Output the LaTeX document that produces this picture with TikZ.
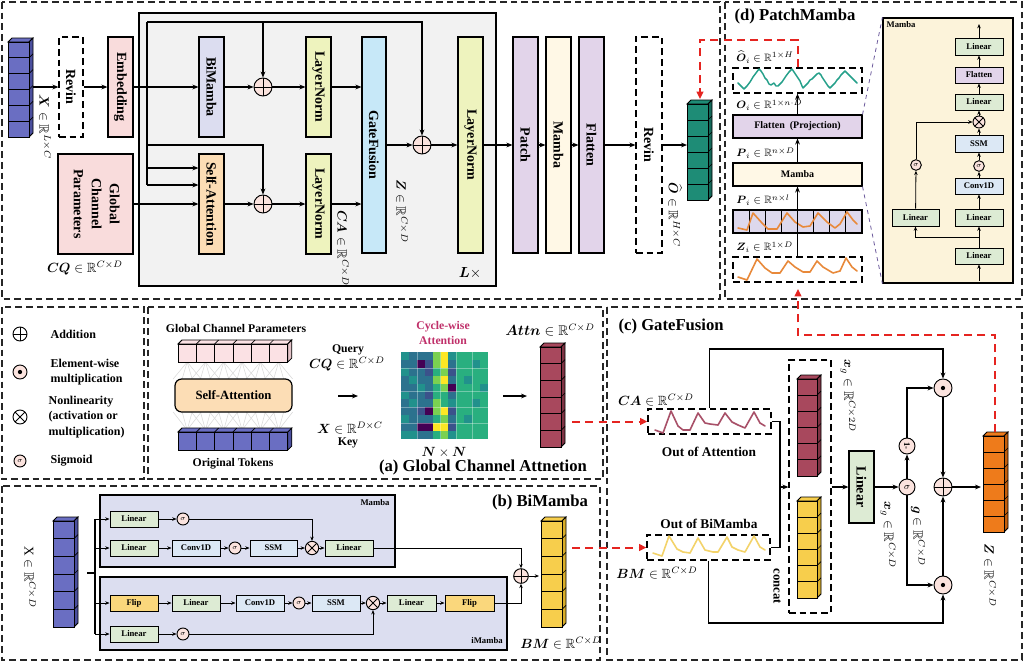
\documentclass[tikz,border=0pt]{standalone}
\usepackage{fontspec}
\setmainfont{Liberation Serif}
\usepackage{amsmath,amssymb}
\usepackage{graphicx}
\usetikzlibrary{arrows.meta,calc}

\definecolor{cpinkbox}{HTML}{F9DCDC}
\definecolor{clav}{HTML}{DCDDF0}
\definecolor{cln}{HTML}{EEF3BE}
\definecolor{csa}{HTML}{FCDDB5}
\definecolor{cgf}{HTML}{C7E8F8}
\definecolor{cpur}{HTML}{E2D4EA}
\definecolor{ccream}{HTML}{FFF8E6}
\definecolor{cgray}{HTML}{F2F2F2}
\definecolor{ccirc}{HTML}{FBE3DE}
\definecolor{cgreen}{HTML}{DDEBD4}
\definecolor{cltblue}{HTML}{DCE8F5}
\definecolor{cflip}{HTML}{FAD77C}
\definecolor{cpanel}{HTML}{DCDEF0}
\definecolor{cmzpanel}{HTML}{FCF3DA}
\definecolor{cpatch}{HTML}{DDD8EC}
\definecolor{cred}{HTML}{E52420}
\definecolor{cblueF}{HTML}{6A6EC2}
\definecolor{cblueD}{HTML}{4B4F9E}
\definecolor{ctealF}{HTML}{1E8C76}
\definecolor{ctealD}{HTML}{14695A}
\definecolor{cmarF}{HTML}{A8485D}
\definecolor{cmarD}{HTML}{7E3243}
\definecolor{cyelF}{HTML}{F7CE4C}
\definecolor{cyelD}{HTML}{D9AE2A}
\definecolor{coraF}{HTML}{EE7B1B}
\definecolor{coraD}{HTML}{C45F0C}
\definecolor{cpinkT}{HTML}{FBE1E4}
\definecolor{cpinkTD}{HTML}{E3C3C8}
\definecolor{ccrim}{HTML}{C0306A}
\definecolor{cwaveCA}{HTML}{A85068}
\definecolor{cwaveBM}{HTML}{F3D36A}
\definecolor{cwaveO}{HTML}{E8893A}
\definecolor{cwaveT}{HTML}{25A08A}
\definecolor{cdashp}{HTML}{6C5A9C}
\definecolor{hm0}{HTML}{440154}
\definecolor{hm1}{HTML}{3B528B}
\definecolor{hm2}{HTML}{2C728E}
\definecolor{hm3}{HTML}{21918C}
\definecolor{hm4}{HTML}{29AF7F}
\definecolor{hm5}{HTML}{7AD151}
\definecolor{hm6}{HTML}{FDE725}

\newcommand\RR{\mathbb{R}}
\newcommand\rtx[1]{\rotatebox{-90}{#1}}
\newcommand\bx[7]{%
  \pgfmathsetmacro\myW{(#5-#3)*0.75}%
  \pgfmathsetmacro\myH{(#6-#4)*0.75}%
  \node[#2,minimum width=\myW pt,minimum height=\myH pt] (#1) at ({(#3+#5)/2},{(#4+#6)/2}) {#7};}
% vertical cube: x y (front top-left) w h n front side
\newcommand\vcube[7]{%
  \filldraw[fill=#6,draw=black,line width=0.6pt] (#1,#2) -- ({#1+4},{#2-4}) -- ({#1+#3+4},{#2-4}) -- ({#1+#3},#2) -- cycle;
  \filldraw[fill=#7,draw=black,line width=0.6pt] ({#1+#3},#2) -- ({#1+#3+4},{#2-4}) -- ({#1+#3+4},{#2+#4-4}) -- ({#1+#3},{#2+#4}) -- cycle;
  \foreach \k in {1,...,#5}{\filldraw[fill=#6,draw=black,line width=0.6pt] (#1,{#2+(\k-1)*#4/#5}) rectangle ({#1+#3},{#2+\k*#4/#5});}
  \foreach \k in {1,...,#5}{\draw[line width=0.5pt] ({#1+#3},{#2+\k*#4/#5}) -- ++(4,-4);}
}
% horizontal row: x y cw h n front side
\newcommand\hrow[7]{%
  \pgfmathsetmacro\hrW{#3*#5}%
  \filldraw[fill=#6,draw=black,line width=0.6pt] (#1,#2) -- ({#1+4},{#2-4}) -- ({#1+\hrW+4},{#2-4}) -- ({#1+\hrW},#2) -- cycle;
  \filldraw[fill=#7,draw=black,line width=0.6pt] ({#1+\hrW},#2) -- ({#1+\hrW+4},{#2-4}) -- ({#1+\hrW+4},{#2+#4-4}) -- ({#1+\hrW},{#2+#4}) -- cycle;
  \foreach \k in {1,...,#5}{\filldraw[fill=#6,draw=black,line width=0.6pt] ({#1+(\k-1)*#3},#2) rectangle ({#1+\k*#3},{#2+#4});
    \draw[line width=0.5pt] ({#1+(\k-1)*#3},#2) -- ++(4,-4);}
}

\begin{document}
\begin{tikzpicture}[x=0.75pt,y=-0.75pt,
  frame/.style={draw=black!85, dash pattern=on 5pt off 3pt, line width=0.8pt},
  dbox/.style={draw, dash pattern=on 5pt off 3pt, line width=0.9pt, inner sep=0pt, fill=white, font=\fontsize{10.5}{13.5}\selectfont\bfseries},
  tbox/.style={draw, line width=0.9pt, inner sep=0pt, font=\fontsize{10.5}{13.5}\selectfont\bfseries},
  pbox/.style={draw, line width=0.8pt, inner sep=0pt, font=\fontsize{7.5}{9}\selectfont\bfseries},
  mbox/.style={draw, line width=0.7pt, inner sep=0pt, font=\fontsize{6.5}{7}\selectfont\bfseries},
  panel/.style={draw, line width=0.8pt, fill=cpanel, inner sep=0pt},
  circ/.style={circle, draw, line width=0.7pt, fill=ccirc, inner sep=0pt},
  sigc/.style={circ, font=\fontsize{5.5}{6}\selectfont},
  addc/.style={circ, path picture={\draw[black,line width=0.7pt] (path picture bounding box.north) -- (path picture bounding box.south) (path picture bounding box.west) -- (path picture bounding box.east);}},
  mulc/.style={circ, path picture={\draw[black,line width=0.7pt] (path picture bounding box.north west) -- (path picture bounding box.south east) (path picture bounding box.north east) -- (path picture bounding box.south west);}},
  dotc/.style={circ, path picture={\fill[black] (path picture bounding box.center) circle[radius=1.6pt];}},
  ttl/.style={font=\fontsize{12.5}{14}\selectfont\bfseries, inner sep=1pt},
  lt/.style={font=\fontsize{9}{11.8}\selectfont\bfseries, inner sep=1pt},
  ot/.style={font=\fontsize{10}{12}\selectfont\bfseries, inner sep=1pt},
  gt/.style={font=\fontsize{8.8}{11}\selectfont\bfseries, inner sep=1pt},
  ml/.style={font=\fontsize{10}{11}\selectfont, inner sep=1pt},
  plab/.style={font=\fontsize{8}{9}\selectfont, inner sep=0pt, anchor=west},
  tinylab/.style={font=\fontsize{6.5}{7}\selectfont\bfseries, inner sep=1pt},
  ln/.style={line width=0.8pt},
  arr/.style={line width=0.8pt, -{Stealth[length=4.5pt,width=3.6pt]}},
  sarr/.style={line width=0.6pt, -{Stealth[length=3.2pt,width=2.6pt]}},
  reddash/.style={draw=cred, line width=1.5pt, dash pattern=on 6pt off 4pt, -{Triangle[length=5.5pt,width=5pt]}},
  pdash/.style={draw=cdashp, dashed, line width=0.6pt},
  wv/.style={line width=1.2pt, line join=round, line cap=round}]
\useasboundingbox (0,0) rectangle (1024,662);
\fill[white] (0,0) rectangle (1024,662);

% ---------- frames
\draw[frame] (2,2) rectangle (720,299);
\draw[frame] (725,2) rectangle (1022,299);
\draw[frame] (2,307) rectangle (144,479);
\draw[frame] (148,307) rectangle (603,479);
\draw[frame] (2,486) rectangle (600,660);
\draw[frame] (607,307) rectangle (1022,660);

% ---------- top section
\bx{lblock}{draw,fill=cgray,line width=1pt}{139}{13}{496}{286}{}
\node[font=\fontsize{11}{12}\selectfont] (lx) at (470,273) {$\boldsymbol{L}\times$};
\vcube{8}{42}{21}{95}{6}{cblueF}{cblueD}
\coordinate (xc) at (33,87);
\node[ml] (xl) at (45,127) {\rtx{$\boldsymbol{X}\in\RR^{L\times C}$}};
\bx{rev1}{dbox}{59}{37}{83}{137}{\rtx{Revin}}
\bx{emb}{tbox,fill=cpinkbox}{108}{37}{133}{137}{\rtx{Embedding}}
\bx{gcp}{tbox,fill=cpinkbox}{58}{154}{133}{254}{\rtx{\begin{tabular}{@{}c@{}}Global\\Channel\\Parameters\end{tabular}}}
\node[ml] (cql) at (85,268) {$\boldsymbol{CQ}\in\RR^{C\times D}$};
\bx{bim}{tbox,fill=clav}{199}{37}{224}{137}{\rtx{BiMamba}}
\node[addc,minimum size=13.5pt] (p1) at (263,87) {};
\bx{ln1}{tbox,fill=cln}{306}{37}{331}{137}{\rtx{LayerNorm}}
\bx{sa}{tbox,fill=csa}{199}{154}{224}{254}{\rtx{Self-Attention}}
\node[addc,minimum size=13.5pt] (p2) at (263,204) {};
\bx{ln2}{tbox,fill=cln}{306}{154}{331}{254}{\rtx{LayerNorm}}
\node[ml] (cal) at (343,248) {\rtx{$\boldsymbol{CA}\in\RR^{C\times D}$}};
\bx{gf}{tbox,fill=cgf}{362}{37}{386}{253}{\rtx{GateFusion}}
\node[ml] (zl) at (402,211) {\rtx{$\boldsymbol{Z}\in\RR^{C\times D}$}};
\node[addc,minimum size=13.5pt] (p3) at (422,145) {};
\bx{ln3}{tbox,fill=cln}{458}{37}{483}{253}{\rtx{LayerNorm}}
\bx{patch}{tbox,fill=cpur}{513}{37}{538}{253}{\rtx{Patch}}
\bx{mam}{tbox,fill=ccream}{546}{37}{571}{253}{\rtx{Mamba}}
\bx{flt}{tbox,fill=cpur}{579}{37}{604}{253}{\rtx{Flatten}}
\bx{rev2}{dbox}{636}{37}{662}{253}{\rtx{Revin}}
\node[ml] (ol) at (675,215) {\rtx{$\widehat{\boldsymbol{O}}\in\RR^{H\times C}$}};
\vcube{687}{104}{21}{96}{6}{ctealF}{ctealD}
\coordinate (ocw) at (687,145);
\coordinate (ocn) at (700,99);

\draw[arr] (xc) -- (rev1.west |- xc);
\draw[arr] (rev1) -- (emb);
\draw[arr] (emb) -- (bim);
\coordinate (bt) at (147,22);
\coordinate (bb) at (147,185);
\coordinate (bm1) at (147,145);
\coordinate (bk) at (147,168);
\draw[ln] (bt) -- (bb);
\draw[arr] (bt) -| (p3.north);
\draw[arr] (p1.north |- bt) -- (p1.north);
\draw[arr] (bm1) -| (p2.north);
\draw[arr] (bk) -- (sa.west |- bk);
\draw[arr] (bb) -- (sa.west |- bb);
\draw[arr] (gcp) -- (sa);
\draw[arr] (bim) -- (p1);
\draw[arr] (p1) -- (ln1);
\draw[arr] (sa) -- (p2);
\draw[arr] (p2) -- (ln2);
\draw[arr] (ln1.east) -- (gf.west |- ln1.east);
\draw[arr] (ln2.east) -- (gf.west |- ln2.east);
\draw[arr] (gf.east |- p3) -- (p3);
\draw[arr] (p3) -- (ln3);
\draw[arr] (ln3) -- (patch);
\draw[arr] (patch) -- (mam);
\draw[arr] (mam) -- (flt);
\draw[arr] (flt) -- (rev2);
\draw[arr] (rev2) -- (ocw);

% ---------- (d) PatchMamba
\node[ttl,anchor=west] (dttl) at (733,16) {(d) PatchMamba};
\node[plab] (l1) at (736,57) {$\widehat{\boldsymbol{O}}_i\in\RR^{1\times H}$};
\node[plab] (l2) at (736,105) {$\boldsymbol{O}_i\in\RR^{1\times n\cdot D}$};
\node[plab] (l3) at (736,153) {$\boldsymbol{P}_i\in\RR^{n\times D}$};
\node[plab] (l4) at (736,200) {$\boldsymbol{P}_i\in\RR^{n\times l}$};
\node[plab] (l5) at (736,247) {$\boldsymbol{Z}_i\in\RR^{1\times D}$};
\bx{pmo}{dbox}{733}{68}{862}{93}{}
\draw[wv,cwaveT,line width=1.1pt] plot coordinates {(738,83) (741,86) (744,89) (747,86) (750,82) (753,77) (756,73) (759,69) (761,71) (763,74) (765,78) (767,80) (769,84) (771,85) (774,83) (776,86) (778,86) (780,84) (782,82) (784,79) (786,76) (789,72) (792,69) (794,72) (796,75) (798,78) (800,81) (802,86) (803,88) (806,85) (808,83) (810,80) (812,79) (815,76) (817,74) (819,73) (821,75) (822,77) (824,80) (826,83) (828,86) (830,88) (833,85) (835,83) (837,80) (839,78) (841,75) (843,73) (845,71) (847,73) (849,75) (851,77) (853,79) (855,81) (857,83)};
\bx{pmf}{pbox,fill=cpur}{733}{115}{862}{138}{Flatten\ \ (Projection)}
\bx{pmm}{pbox,fill=ccream}{733}{163}{862}{186}{Mamba}
\bx{pmp}{pbox,fill=cpatch}{733}{210}{862}{233}{}
\foreach \k in {1,...,7}{\draw[line width=0.7pt] ({733+\k*16.125},210) -- ({733+\k*16.125},233);}
\draw[wv,cwaveO] plot coordinates {(738,228) (747,230) (753,213) (762,223) (768,229) (777,229) (787,213) (795,222) (803,227) (810,226) (818,213) (827,222) (835,228) (840,224) (847,212) (853,220) (857,224)};
\bx{pmz}{dbox}{733}{257}{862}{282}{}
\draw[wv,cwaveO] plot coordinates {(738,277) (747,280) (757,259) (765,268) (772,273) (780,273) (788,261) (795,267) (803,272) (810,272) (817,261) (823,267) (833,273) (840,271) (846,258) (852,267) (857,271)};
\draw[arr] (pmz) -- (pmm);
\draw[arr] (pmm) -- (pmf);
\draw[arr] (pmf) -- (pmo);

\bx{mzp}{draw,fill=cmzpanel,line width=0.9pt}{883}{18}{1013}{283}{}
\node[tinylab,anchor=north west] (mzt) at (885,20) {Mamba};
\draw[pdash] (pmf.north east) -- (mzp.north west);
\draw[pdash] (pmm.south east) -- (mzp.south west);
\bx{mz4}{mbox,fill=cgreen}{955}{38}{1003}{55}{Linear}
\bx{mzf}{mbox,fill=cpur}{955}{67}{1003}{83}{Flatten}
\bx{mz3}{mbox,fill=cgreen}{955}{94}{1003}{110}{Linear}
\node[mulc,minimum size=9pt] (mzx) at (979,122) {};
\bx{mzs}{mbox,fill=cltblue}{955}{135}{1003}{152}{SSM}
\node[sigc,minimum size=8pt] (mzg) at (979,166) {$\sigma$};
\bx{mzc}{mbox,fill=cltblue}{955}{178}{1003}{194}{Conv1D}
\bx{mz2}{mbox,fill=cgreen}{955}{209}{1003}{226}{Linear}
\bx{mz1}{mbox,fill=cgreen}{955}{248}{1003}{264}{Linear}
\bx{mzl}{mbox,fill=cgreen}{892}{209}{939}{226}{Linear}
\node[sigc,minimum size=8pt] (mzlg) at (916,165) {$\sigma$};
\coordinate (mzin) at (979,281);
\coordinate (mzout) at (979,24);
\coordinate (mzbr) at (979,237);
\draw[sarr] (mzin) -- (mz1);
\draw[sarr] (mz1) -- (mz2);
\draw[sarr] (mzbr) -| (mzl.south);
\draw[sarr] (mzl) -- (mzlg);
\draw[sarr] (mzlg.north) |- (mzx.west);
\draw[sarr] (mz2) -- (mzc);
\draw[sarr] (mzc) -- (mzg);
\draw[sarr] (mzg) -- (mzs);
\draw[sarr] (mzs) -- (mzx);
\draw[sarr] (mzx) -- (mz3);
\draw[sarr] (mz3) -- (mzf);
\draw[sarr] (mzf) -- (mz4);
\draw[sarr] (mz4) -- (mzout);

% ---------- legend
\node[addc,fill=white,minimum size=10.5pt] (la) at (20,334) {};
\node[lt,anchor=west] (lat) at (49,334) {Addition};
\node[dotc,minimum size=10.5pt] (ld) at (20,372) {};
\node[lt,anchor=west,align=left] (ldt) at (49,372) {Element-wise\\multiplication};
\node[mulc,fill=white,minimum size=10.5pt] (lm) at (20,417) {};
\node[lt,anchor=west,align=left] (lmt) at (47,417) {Nonlinearity\\(activation or\\multiplication)};
\node[sigc,minimum size=9pt] (ls) at (20,461) {$\sigma$};
\node[lt,anchor=west] (lst) at (49,461) {Sigmoid};

% ---------- (a) global channel attention
\node[gt] (gcpt) at (236,328) {Global Channel Parameters};
\foreach \i in {0,...,5}{
  \foreach \o in {-14,-5,5,14}{
    \draw[gray!30,line width=0.4pt] ({178+18.3*(\i+0.5)},362) -- ({178+18.3*(\i+0.5)+\o},379);
    \draw[gray!30,line width=0.4pt] ({178+18.3*(\i+0.5)},430) -- ({178+18.3*(\i+0.5)+\o},412);
  }
}
\hrow{178}{344}{18.3}{18}{6}{cpinkT}{cpinkTD}
\bx{sab}{draw,fill=csa,line width=0.9pt,rounded corners=5pt,font=\fontsize{9.5}{11}\selectfont\bfseries}{175}{379}{292}{412}{Self-Attention}
\hrow{178}{432}{18.3}{18}{6}{cblueF}{cblueD}
\node[gt] (ott) at (233,464) {Original Tokens};
\node[gt] (qt) at (348,350) {Query};
\node[ml] (cqt) at (347,364) {$\boldsymbol{CQ}\in\RR^{C\times D}$};
\coordinate (qa1) at (338,396);
\coordinate (qa2) at (358,396);
\draw[arr] (qa1) -- (qa2);
\node[ml] (xkt) at (350,428) {$\boldsymbol{X}\in\RR^{D\times C}$};
\node[gt] (kt) at (348,443) {Key};
\node[gt,text=ccrim,align=center] (cwt) at (443,333) {Cycle-wise\\Attention};
\foreach \rl [count=\r from 0] in {{3,2,2,2,5,6,3,4,4,4,4},{2,2,0,1,5,6,2,4,4,3,4},{3,2,2,1,4,5,1,4,4,4,4},{2,3,2,2,5,6,2,4,3,4,4},{2,2,3,2,4,5,0,4,4,4,3},{3,2,2,1,4,4,2,4,4,4,4},{2,3,2,2,5,4,3,4,4,3,4},{2,2,1,0,5,6,1,4,4,4,4},{3,2,2,2,4,5,2,4,3,4,4},{2,2,0,0,6,6,1,4,4,4,4},{3,3,2,2,4,5,3,4,4,4,4}}{
  \foreach \v [count=\c from 0] in \rl {
    \fill[hm\v] ({401+\c*7.9},{352+\r*7.9}) rectangle ++(7.9,7.9);
  }
}
\foreach \g in {2,5,7,9}{
  \draw[white,opacity=0.35,line width=0.3pt] ({401+\g*7.9},352) -- ++(0,86.9);
  \draw[white,opacity=0.35,line width=0.3pt] (401,{352+\g*7.9}) -- ++(86.9,0);
}
\node[ml] (nnt) at (444,452) {$\boldsymbol{N}\times\boldsymbol{N}$};
\coordinate (ha1) at (503,396);
\coordinate (ha2) at (527,396);
\draw[arr] (ha1) -- (ha2);
\node[ml,font=\fontsize{10.5}{12}\selectfont] (attt) at (550,330) {$\boldsymbol{Attn}\in\RR^{C\times D}$};
\vcube{540}{347}{21}{100}{6}{cmarF}{cmarD}
\coordinate (atte) at (572,421.5);
\node[ttl] (attl) at (483,467) {(a) Global Channel Attnetion};

% ---------- (b) BiMamba
\node[ttl] (bttl) at (540,502) {(b) BiMamba};
\node[ml] (bxl) at (30,577) {\rtx{$\mathrm{X}\in\RR^{C\times D}$}};
\vcube{53}{521}{21}{106}{6}{cblueF}{cblueD}
\bx{mpan}{panel}{100}{495}{395}{567}{}
\node[tinylab] (mpt) at (375,503) {Mamba};
\bx{ipan}{panel}{100}{577}{507}{650}{}
\node[tinylab] (ipt) at (487,641) {iMamba};
\bx{ml1}{mbox,fill=cgreen}{110}{511}{158}{527}{Linear}
\node[sigc,minimum size=9pt] (ms1) at (183,519) {$\sigma$};
\bx{ml2}{mbox,fill=cgreen}{110}{540}{158}{556}{Linear}
\bx{mcv}{mbox,fill=cltblue}{172}{540}{220}{556}{Conv1D}
\node[sigc,minimum size=9pt] (ms2) at (235,548) {$\sigma$};
\bx{mss}{mbox,fill=cltblue}{250}{540}{297}{556}{SSM}
\node[mulc,minimum size=10pt] (mmx) at (312,548) {};
\bx{ml3}{mbox,fill=cgreen}{325}{540}{373}{556}{Linear}
\bx{if1}{mbox,fill=cflip}{110}{595}{158}{611}{Flip}
\bx{il1}{mbox,fill=cgreen}{172}{595}{220}{611}{Linear}
\bx{icv}{mbox,fill=cltblue}{236}{595}{284}{611}{Conv1D}
\node[sigc,minimum size=9pt] (is1) at (299,603) {$\sigma$};
\bx{iss}{mbox,fill=cltblue}{312}{595}{360}{611}{SSM}
\node[mulc,minimum size=10pt] (imx) at (373,603) {};
\bx{il2}{mbox,fill=cgreen}{387}{595}{436}{611}{Linear}
\bx{if2}{mbox,fill=cflip}{445}{595}{494}{611}{Flip}
\bx{il3}{mbox,fill=cgreen}{110}{626}{158}{642}{Linear}
\node[sigc,minimum size=9pt] (is2) at (183,634) {$\sigma$};
\node[addc,minimum size=11pt] (badd) at (521,576) {};
\vcube{541}{521}{21}{106}{6}{cyelF}{cyelD}
\coordinate (bmcw) at (539,576);
\coordinate (bmce) at (572,547.5);
\node[ml] (bmt) at (561,643) {$\boldsymbol{BM}\in\RR^{C\times D}$};

\coordinate (bs0) at (87,573);
\coordinate (bs1) at (95,573);
\coordinate (bvt) at (95,519);
\coordinate (bvb) at (95,634);
\draw[ln] (bs0) -- (bs1);
\draw[ln] (bvt) -- (bvb);
\draw[sarr] (bvt |- ml1.west) -- (ml1.west);
\draw[sarr] (bvt |- ml2.west) -- (ml2.west);
\draw[sarr] (bvt |- if1.west) -- (if1.west);
\draw[sarr] (bvt |- il3.west) -- (il3.west);
\draw[sarr] (ml1) -- (ms1);
\draw[sarr] (ms1.east) -| (mmx.north);
\draw[sarr] (ml2) -- (mcv);
\draw[sarr] (mcv) -- (ms2);
\draw[sarr] (ms2) -- (mss);
\draw[sarr] (mss) -- (mmx);
\draw[sarr] (mmx) -- (ml3);
\draw[sarr] (ml3.east) -| (badd.north);
\draw[sarr] (if1) -- (il1);
\draw[sarr] (il1) -- (icv);
\draw[sarr] (icv) -- (is1);
\draw[sarr] (is1) -- (iss);
\draw[sarr] (iss) -- (imx);
\draw[sarr] (imx) -- (il2);
\draw[sarr] (il2) -- (if2);
\draw[sarr] (if2.east) -| (badd.south);
\draw[sarr] (il3) -- (is2);
\draw[sarr] (is2.east) -| (imx.south);
\draw[sarr] (badd) -- (bmcw);

% ---------- (c) GateFusion
\node[ttl,anchor=west] (cttl) at (617,326) {(c) GateFusion};
\node[ml] (cat) at (656,400) {$\boldsymbol{CA}\in\RR^{C\times D}$};
\bx{gca}{dbox}{648}{409}{771}{434}{}
\draw[wv,cwaveCA] plot coordinates {(655,430) (663,433) (671,411) (678,426) (683,430) (690,430) (698,413) (705,423) (710,424) (718,425) (725,413) (732,422) (738,425) (745,428) (754,412) (760,423) (765,426)};
\node[ot] (oat) at (709,452) {Out of Attention};
\node[ot] (obt) at (709,524) {Out of BiMamba};
\bx{gbm}{dbox}{647}{535}{770}{560}{}
\draw[wv,cwaveBM] plot coordinates {(653,553) (662,556) (669,536) (677,549) (683,552) (690,553) (698,538) (705,550) (713,552) (718,552) (727,537) (732,547) (738,550) (745,552) (754,536) (760,547) (765,550)};
\node[ml] (bmgt) at (657,573) {$\boldsymbol{BM}\in\RR^{C\times D}$};
\bx{gcat}{dbox}{789}{360}{831}{613}{}
\vcube{797}{379}{20}{97}{6}{cmarF}{cmarD}
\vcube{797}{501}{20}{97}{6}{cyelF}{cyelD}
\node[gt,font=\fontsize{9.5}{11}\selectfont\bfseries] (cct) at (777,586) {\rtx{concat}};
\node[ml] (xg2) at (848,396) {\rtx{$\boldsymbol{x}_g\in\RR^{C\times 2D}$}};
\bx{glin}{tbox,fill=cgreen}{849}{451}{874}{523}{\rtx{Linear}}
\node[ml] (xg1) at (888,535) {\rtx{$\boldsymbol{x}_g\in\RR^{C\times D}$}};
\node[sigc,minimum size=12pt,font=\fontsize{7}{7}\selectfont] (gsig) at (907,487) {$\sigma$};
\node[sigc,minimum size=12pt] (gone) at (907,446) {\rtx{\fontsize{6.5}{7}\selectfont\bfseries 1-}};
\node[ml] (gl) at (918,536) {\rtx{$\boldsymbol{g}\in\RR^{C\times D}$}};
\node[dotc,minimum size=13.5pt] (gmt) at (943,388) {};
\node[addc,minimum size=13.5pt] (gadd) at (943,487) {};
\node[dotc,minimum size=13.5pt] (gmb) at (943,585) {};
\vcube{983}{436}{21}{96}{6}{coraF}{coraD}
\coordinate (zcw) at (981,487);
\coordinate (zcn) at (995,432);
\node[ml] (zgl) at (990,575) {\rtx{$\boldsymbol{Z}\in\RR^{C\times D}$}};

\coordinate (cj) at (780,487);
\draw[ln] (gca.east) -| (cj) |- (gbm.east);
\draw[arr] (cj) -- (gcat.west |- cj);
\coordinate (gtop) at (943,349);
\draw[arr] (gca.north) |- (gtop) -- (gmt.north);
\coordinate (gbot) at (943,623);
\draw[arr] (gbm.south) |- (gbot) -- (gmb.south);
\draw[arr] (gcat.east |- glin) -- (glin.west);
\draw[arr] (glin) -- (gsig);
\draw[arr] (gsig) -- (gone);
\draw[arr] (gone.north) |- (gmt.west);
\draw[arr] (gsig.south) |- (gmb.west);
\draw[arr] (gmt) -- (gadd);
\draw[arr] (gmb) -- (gadd);
\draw[arr] (gadd) -- (zcw);

% ---------- red dashed links
\draw[reddash] (atte) -- (gca.west);
\draw[reddash] (bmce) -- (gbm.west);
\coordinate (r3) at (798,335);
\coordinate (pmin) at (798,289);
\draw[reddash] (zcn) |- (r3) -- (pmin);
\coordinate (r4) at (700,40);
\draw[reddash] (pmo.north) |- (r4) -- (ocn);
\end{tikzpicture}
\end{document}
